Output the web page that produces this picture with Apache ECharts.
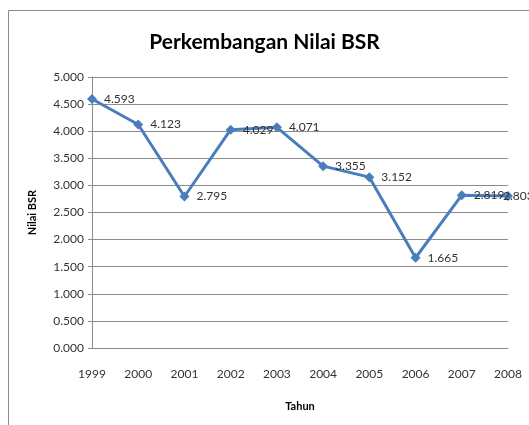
<!DOCTYPE html>
<html>
<head>
<meta charset="utf-8">
<script src="https://cdn.jsdelivr.net/npm/echarts@6/dist/echarts.min.js"></script>
<style>
  html, body { margin: 0; padding: 0; background: #fff; }
  #chart { width: 529px; height: 425px; }
</style>
</head>
<body>
<div id="chart"></div>
<script>
// data
var years = ['1999', '2000', '2001', '2002', '2003', '2004', '2005', '2006', '2007', '2008'];
var bsrValues = [4.593, 4.123, 2.795, 4.029, 4.071, 3.355, 3.152, 1.665, 2.819, 2.803];

var font = 'Lato, "Open Sans", sans-serif';

// the last label gets pushed left, like in the original (it overlaps the marker)
var seriesData = bsrValues.map(function (v, i) {
    if (i === bsrValues.length - 1) {
        return { value: v, label: { offset: [-17, 0] } };
    }
    return v;
});

var myChart = echarts.init(document.getElementById('chart'));

var option = {
    backgroundColor: '#fff',
    animation: false,
    title: {
        text: 'Perkembangan Nilai BSR',
        left: 'center',
        top: 27,
        textStyle: {
            fontFamily: font,
            fontSize: 21,
            fontWeight: 'bold',
            color: '#000'
        }
    },
    graphic: [{
        // outer chart frame
        type: 'rect',
        shape: { x: 8.5, y: 10.5, width: 600, height: 500 },
        style: { fill: 'none', stroke: '#8a8a8a', lineWidth: 1 }
    }],
    grid: {
        left: 92,
        right: 21,
        top: 77,
        bottom: 77
    },
    xAxis: {
        type: 'category',
        data: years,
        boundaryGap: false,
        name: 'Tahun',
        nameLocation: 'middle',
        nameGap: 53,
        nameTextStyle: { fontFamily: font, fontSize: 11, fontWeight: 'bold', color: '#000' },
        axisLine: { lineStyle: { color: '#8c8c8c' } },
        axisTick: { show: false },
        axisLabel: { fontFamily: font, fontSize: 12, color: '#333', margin: 20 },
        splitLine: { show: false }
    },
    yAxis: {
        type: 'value',
        min: 0,
        max: 5,
        interval: 0.5,
        name: 'Nilai BSR',
        nameLocation: 'middle',
        nameGap: 54,
        nameRotate: 90,
        nameTextStyle: { fontFamily: font, fontSize: 11, fontWeight: 'bold', color: '#000' },
        axisLine: { show: true, lineStyle: { color: '#8c8c8c' } },
        axisTick: { show: true, length: 4, lineStyle: { color: '#8c8c8c' } },
        axisLabel: {
            fontFamily: font,
            fontSize: 12,
            color: '#333',
            margin: 8,
            formatter: function (v) { return v.toFixed(3); }
        },
        splitLine: { lineStyle: { color: '#8c8c8c' } }
    },
    series: [{
        name: 'Nilai BSR',
        type: 'line',
        data: seriesData,
        symbol: 'diamond',
        symbolSize: 10,
        lineStyle: { color: '#4a7ebb', width: 3 },
        itemStyle: { color: '#4a7ebb' },
        label: {
            show: true,
            position: 'right',
            distance: 7,
            fontFamily: font,
            fontSize: 12,
            color: '#333',
            formatter: function (p) { return p.value.toFixed(3); }
        }
    }]
};

myChart.setOption(option);
</script>
</body>
</html>
